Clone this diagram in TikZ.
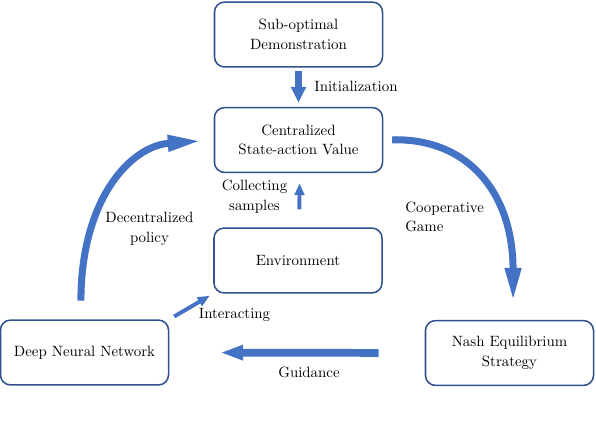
\documentclass[tikz,border=0pt]{standalone}
\usetikzlibrary{arrows.meta}
\definecolor{boxblue}{RGB}{47,82,143}
\definecolor{flowblue}{RGB}{68,114,196}
\tikzset{
  stage/.style={draw=boxblue, line width=1.1pt, rounded corners=0.25cm,
    minimum width=4.2cm, minimum height=1.62cm, align=center,
    font=\fontsize{10.6}{14}\selectfont},
  tag/.style={align=center, inner sep=0pt, font=\fontsize{10.6}{14}\selectfont},
  bigflow/.style={draw=flowblue, line width=5pt, -{Triangle[length=0.85cm,width=0.375cm]}},
  midflow/.style={draw=flowblue, line width=5pt, -{Triangle[length=0.4cm,width=0.36cm]}},
  thinflow/.style={draw=flowblue, line width=2.8pt, -{Triangle[length=0.3cm,width=0.24cm]}}
}
\begin{document}
\begin{tikzpicture}[x=0.025cm, y=-0.025cm]
  \useasboundingbox (0,0) rectangle (596,422);

  % Drawing the boxes
  \node [stage] (demo) at (298.5,34.5) {Sub-optimal\\Demonstration};%
  \node [stage] (value) at (298.5,140) {Centralized\\State-action Value};%
  \node [stage] (env) at (298,260.5) {Environment};%
  \node [stage] (dnn) at (84.5,352.5) {Deep Neural Network};%
  \node [stage] (nash) at (509.5,353) {Nash Equilibrium\\Strategy};%

  % Drawing arrow demo value
  \draw [midflow, shorten <=0.08cm, shorten >=0.1cm] (demo) -- (value);%

  % Drawing arrow env value
  \draw [thinflow, shorten <=0.45cm, shorten >=0.25cm] ([xshift=0.03cm]env.north) -- ([xshift=0.03cm]value.south);%

  % Drawing arrow value nash
  \draw [bigflow, shorten <=0.22cm, shorten >=0.45cm] (value.east) .. controls (470,138) and (513,195) .. ([xshift=0.09cm]nash.north);%

  % Drawing arrow nash dnn
  \draw [midflow, -{Triangle[length=0.575cm,width=0.35cm]}, line width=5.5pt,
    shorten <=1.15cm, shorten >=1.27cm] (nash.west) -- (dnn.east);%

  % Drawing arrow dnn env
  \draw [thinflow, shorten <=0.14cm, shorten >=0.1cm] (dnn.north east) -- (env.south west);%

  % Drawing arrow dnn value
  \draw [bigflow, shorten <=0.47cm, shorten >=0.3cm] ([xshift=-0.09cm]dnn.north) .. controls (81,200) and (130,146) .. (value.west);%

  % Marking the arrows
  \node [tag] (init) at (356,86) {Initialization};%
  \node [tag] (collect) at (254.5,197) {Collecting\\samples};%
  \node [tag, align=left, anchor=west] (game) at (405,217) {Cooperative\\Game};%
  \node [tag] (guide) at (309,372) {Guidance};%
  \node [tag] (interact) at (234.5,315) {Interacting};%
  \node [tag] (policy) at (149.5,229) {Decentralized\\policy};%
\end{tikzpicture}
\end{document}
